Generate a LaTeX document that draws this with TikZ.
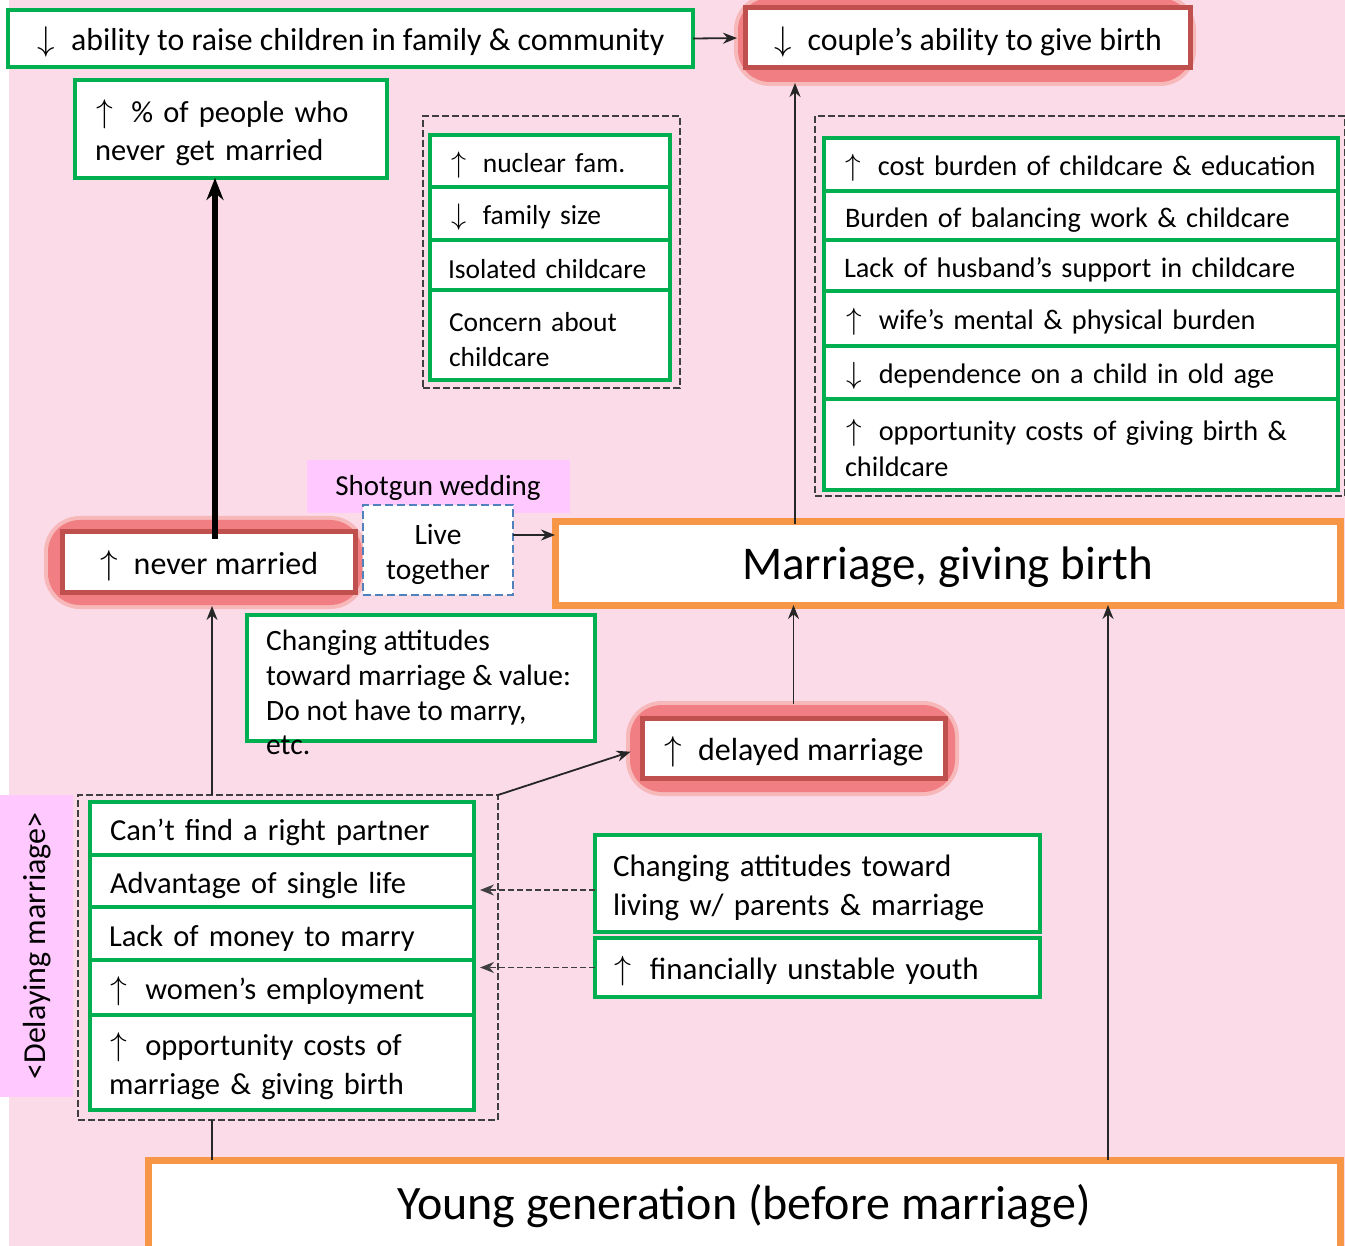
\RequirePackage{fix-cm}
\documentclass[tikz,border=0pt]{standalone}
\usepackage{fontspec}
\usepackage{graphicx}
\setmainfont{Carlito}
\usetikzlibrary{arrows.meta,calc}
\definecolor{bgpink}{HTML}{FADBE7}
\definecolor{violetbg}{HTML}{FFC8FF}
\definecolor{grn}{HTML}{00B050}
\definecolor{redb}{HTML}{C0504D}
\definecolor{glowc}{HTML}{F07E82}
\definecolor{orng}{HTML}{F79646}
\definecolor{dashg}{HTML}{3F3F3F}
\definecolor{blueb}{HTML}{4F81BD}
\newcommand\UA{\makebox[0.86em][l]{\hspace{0.04em}\scalebox{1.1}[1.08]{$\uparrow$}}}
\newcommand\DA{\makebox[0.86em][l]{\hspace{0.04em}\scalebox{1.1}[1.08]{$\downarrow$}}}
\newcommand\fsz[2]{\fontsize{#1pt}{#2pt}\selectfont}
\newcommand\dn{\rule{0pt}{\dimexpr0.72em+8pt\relax}}
\newcommand\cbox[7]{\node[#1, anchor=north west, minimum width={(#5-#3)*1pt}, minimum height={(#6-#4)*1pt}, align=center] (#2) at (#3,#4) {\dn#7};}
\newcommand\lbx[8]{\node[#1, anchor=north west, minimum width={(#5-#3)*1pt}, minimum height={(#6-#4)*1pt}, inner xsep=#7pt, text width={(#5-#3-2*#7)*1pt}, align=left] (#2) at (#3,#4) {\dn#8};}
\tikzset{
  gbox/.style={draw=grn, line width=3.5pt, fill=white, outer sep=0pt, inner ysep=0pt},
  rbox/.style={draw=redb, line width=5pt, fill=white, outer sep=0pt},
  obox/.style={draw=orng, line width=7pt, fill=white, outer sep=0pt},
  grp/.style={draw=dashg, line width=1.8pt, dash pattern=on 7pt off 3pt, outer sep=0pt},
  livebox/.style={draw=blueb, line width=2.8pt, dash pattern=on 8pt off 4pt, fill=white, outer sep=0pt},
  vbox/.style={fill=violetbg, outer sep=0pt},
  glow/.style={fill=glowc, rounded corners=32pt},
  glowout/.style={fill=glowc!55, rounded corners=36pt},
  arr/.style={draw=black!85, line width=1.8pt, -{Stealth[length=14pt,width=11pt]}},
  bigarr/.style={draw=black, line width=6pt, -{Stealth[length=22pt,width=17pt]}},
  darr/.style={draw=dashg, line width=1.8pt, dash pattern=on 6pt off 3pt, -{Stealth[length=14pt,width=11pt]}},
  plain/.style={draw=black!85, line width=1.8pt}
}
\begin{document}
\begin{tikzpicture}[x=1pt,y=-1pt]
\useasboundingbox (0,0) rectangle (1345,1246);
\fill[bgpink] (9,0) rectangle (1345,1246);

% glows
\fill[glowout] (734,-6) rectangle (1196,86);
\fill[glow] (738,-2) rectangle (1192,82);
\fill[glowout] (44,516) rectangle (366,609);
\fill[glow] (48,520) rectangle (362,605);
\fill[glowout] (626,701) rectangle (959,796);
\fill[glow] (630,705) rectangle (955,792);

% top row
\cbox{gbox, font=\fsz{31.8}{36}}{ability}{8}{10}{693}{67}{\DA{} ability to raise children in family \& community}
\cbox{rbox, font=\fsz{31.8}{36}}{couple}{745}{8}{1190}{68}{\DA{} couple’s ability to give birth}
\lbx{gbox, font=\fsz{30.5}{38}}{pct}{75}{80}{387}{178}{20}{\UA{} \% of people who\\never get married}

% group 1
\node[grp, anchor=north west, minimum width=257pt, minimum height=272pt] (grpA) at (423,116) {};
\lbx{gbox, font=\fsz{27.5}{34}}{nuclear}{430}{135}{670}{187}{20}{\UA{} nuclear fam.}
\lbx{gbox, font=\fsz{27.5}{34}}{fsize}{430}{187}{670}{240}{20}{\DA{} family size}
\lbx{gbox, font=\fsz{27.5}{34}}{isol}{430}{240}{670}{290}{18}{Isolated childcare}
\lbx{gbox, font=\fsz{27.5}{35}}{concern}{430}{290}{670}{380}{19}{Concern about\\childcare}

% group right
\node[grp, anchor=north west, minimum width=530pt, minimum height=380pt] (grpB) at (815,116) {};
\lbx{gbox, font=\fsz{28.3}{35}}{cost}{824}{138}{1338}{191}{20}{\mbox{\UA{} cost burden of childcare \& education}}
\lbx{gbox, font=\fsz{28.3}{35}}{balance}{824}{191}{1338}{240}{21}{\mbox{Burden of balancing work \& childcare}}
\lbx{gbox, font=\fsz{28.3}{35}}{husband}{824}{240}{1338}{291}{20}{\mbox{Lack of husband’s support in childcare}}
\lbx{gbox, font=\fsz{28.3}{35}}{wife}{824}{291}{1338}{346}{21}{\UA{} wife’s mental \& physical burden}
\lbx{gbox, font=\fsz{28.3}{35}}{depend}{824}{346}{1338}{399}{21}{\DA{} dependence on a child in old age}
\lbx{gbox, font=\fsz{28.3}{36}}{oppB}{824}{399}{1338}{490}{21}{\UA{} opportunity costs of giving birth \&\\childcare}

% middle
\node[vbox, anchor=north west, minimum width=263pt, minimum height=53pt] (shotgun) at (307,460) {};
\node[font=\fsz{29}{34}] (shotguntext) at (438,488) {Shotgun wedding};
\cbox{livebox, font=\fsz{29.5}{35}}{live}{363}{505}{513}{595}{Live\\together}
\cbox{rbox, font=\fsz{32}{36}}{never}{62}{532}{355}{592}{\UA{} never married}
\node[obox, anchor=north west, minimum width=785pt, minimum height=83pt, font=\fsz{47}{52}, text depth=0pt] (marriage) at (555,522) {Marriage, giving birth};

\node[gbox, anchor=north west, minimum width=348pt, minimum height=126pt] (att) at (247,615) {};
\node[anchor=north west, align=left, inner sep=0pt, font=\fsz{29.5}{34.7}] (atttext) at (266,630) {Changing attitudes\\toward marriage \& value:\\Do not have to marry,\\etc.};

\cbox{rbox, font=\fsz{32}{36}}{delayed}{642}{718}{945}{778}{\UA{} delayed marriage}

% left group
\node[vbox, anchor=north west, minimum width=73pt, minimum height=302pt] (dlabel) at (0,795) {};
\node[rotate=90, font=\fsz{32}{34}] (dlabeltext) at (37,946) {<Delaying marriage>};
\node[grp, anchor=north west, minimum width=420pt, minimum height=325pt] (grpC) at (78,795) {};
\lbx{gbox, font=\fsz{30.5}{38}}{partner}{90}{802}{474}{855}{20}{Can’t find a right partner}
\lbx{gbox, font=\fsz{30.5}{38}}{single}{90}{855}{474}{907}{20}{Advantage of single life}
\lbx{gbox, font=\fsz{30.5}{38}}{money}{90}{907}{474}{960}{19}{Lack of money to marry}
\lbx{gbox, font=\fsz{30.5}{38}}{women}{90}{960}{474}{1015}{19}{\UA{} women’s employment}
\lbx{gbox, font=\fsz{30.5}{39}}{oppC}{90}{1015}{474}{1110}{19}{\UA{} opportunity costs of\\marriage \& giving birth}

\lbx{gbox, font=\fsz{31}{39}}{living}{595}{835}{1040}{932}{18}{Changing attitudes toward\\living w/ parents \& marriage}
\lbx{gbox, font=\fsz{31}{38}}{finance}{595}{938}{1040}{997}{18}{\UA{} financially unstable youth}

\node[obox, anchor=north west, minimum width=1192pt, minimum height=92pt, font=\fsz{48}{52}] (young) at (148,1160) {Young generation (before marriage)};

% connectors
\coordinate (xa) at (215,0);
\coordinate (xb) at (795,0);
\coordinate (xc) at (212,0);
\coordinate (xd) at (1108,0);
\coordinate (ya) at (0,535);
\coordinate (yb) at (0,890);
\draw[arr, shorten >=8pt] (ability.east) -- (couple.west);
\draw[bigarr, shorten <=-7pt] (xa |- never.north) -- (xa |- pct.south);
\draw[arr, shorten >=15pt, shorten <=-2pt] (xb |- marriage.north) -- (xb |- couple.south);
\draw[arr] (live.east |- ya) -- (marriage.west |- ya);
\draw[arr, shorten <=14pt] (delayed.north) -- (delayed.north |- marriage.south);
\draw[arr, shorten >=12pt] (grpC.north east) -- (delayed.west);
\draw[arr, shorten >=14pt] (xc |- grpC.north) -- (xc |- never.south);
\draw[plain] (xc |- young.north) -- (xc |- grpC.south);
\draw[arr] (xd |- young.north) -- (xd |- marriage.south);
\draw[darr, shorten >=6pt] (living.west |- yb) -- (single.east |- yb);
\draw[darr, shorten >=6pt] (finance.west) -- (finance.west -| women.east);
\end{tikzpicture}
\end{document}
